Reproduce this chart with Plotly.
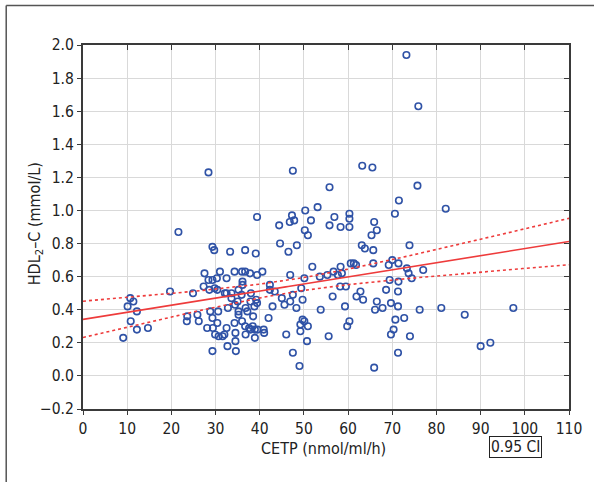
import numpy as np
import plotly.graph_objects as go

# CETP (nmol/ml/h)
cetp = [73.2, 75.9, 28.4, 47.5, 63.2, 65.5, 55.8, 75.7, 71.5, 82.1, 53.1, 50.3, 70.6, 60.3, 60.3, 60.3,
        56.9, 51.6, 55.8, 58.3, 65.9, 66.5, 65.3, 39.4, 21.6, 44.4, 46.8, 47.3, 47.8, 50.2, 50.9,
        29.3, 29.7, 33.3, 36.7, 39.1, 44.6, 48.4, 46.5, 63.1, 63.8, 65.7, 73.9,
        51.9, 27.5, 31.0, 32.5, 34.3, 36.0, 36.7, 37.8, 39.4, 40.6, 36.1, 36.1, 46.9, 28.4, 29.3, 30.3,
        27.3, 50.1, 53.6, 55.3, 56.7, 57.7, 58.6, 58.3, 60.6, 61.3, 61.8, 65.7, 69.2, 70.0, 71.4, 73.3,
        73.7, 74.4, 77.0, 69.4, 71.4, 58.2, 59.5, 49.4, 42.3,
        28.6, 29.8, 30.4, 32.1, 32.5, 33.6, 35.2, 35.9, 33.6, 38.0, 42.3, 43.4, 19.7, 24.9, 10.7, 11.4,
        37.9, 39.2, 39.4, 45.0, 46.9, 47.5, 49.7, 56.5, 62.8, 61.9, 63.4, 68.6, 71.3, 66.5, 35.0,
        32.8, 34.4, 35.2, 35.2, 36.8, 37.2, 38.8, 38.5, 42.0, 45.6, 42.9, 48.3, 28.8, 30.6, 29.3, 10.1,
        12.2, 23.6, 25.9, 53.8, 59.3, 66.1, 67.8, 76.2, 81.1, 86.4, 97.4, 69.7, 71.3,
        49.7, 50.1, 49.2, 50.9, 49.2, 60.3, 59.8, 70.7, 72.7, 70.3, 69.7, 74.0, 55.6, 50.7, 90.0, 92.2,
        46.0, 47.5, 71.3, 49.0, 65.9, 10.8, 12.2, 14.7, 9.1, 23.5, 26.2, 28.1, 29.4, 30.4, 32.5, 34.3,
        36.0, 36.7, 37.6, 37.9, 38.4, 38.9, 39.5, 40.9, 41.0, 29.9, 30.7, 31.6, 32.0, 34.5, 34.5, 36.8,
        38.9, 32.7, 34.6, 29.3]
# HDL2-C (mmol/L)
hdl2 = [1.94, 1.63, 1.23, 1.24, 1.27, 1.26, 1.14, 1.15, 1.06, 1.01, 1.02, 1.00, 0.98, 0.98, 0.95, 0.90,
        0.96, 0.94, 0.91, 0.90, 0.93, 0.88, 0.85, 0.96, 0.87, 0.91, 0.93, 0.97, 0.94, 0.88, 0.85,
        0.78, 0.76, 0.75, 0.76, 0.74, 0.80, 0.79, 0.75, 0.79, 0.77, 0.76, 0.79,
        0.66, 0.62, 0.63, 0.59, 0.63, 0.63, 0.63, 0.62, 0.61, 0.63, 0.57, 0.55, 0.61, 0.58, 0.58, 0.59,
        0.54, 0.59, 0.60, 0.61, 0.63, 0.61, 0.62, 0.66, 0.68, 0.68, 0.67, 0.68, 0.67, 0.70, 0.68, 0.65,
        0.62, 0.59, 0.64, 0.58, 0.57, 0.54, 0.54, 0.53, 0.55,
        0.52, 0.53, 0.52, 0.50, 0.50, 0.50, 0.52, 0.49, 0.47, 0.50, 0.52, 0.51, 0.51, 0.50, 0.47, 0.45,
        0.45, 0.46, 0.44, 0.47, 0.45, 0.49, 0.46, 0.48, 0.51, 0.48, 0.46, 0.52, 0.51, 0.45, 0.45,
        0.41, 0.43, 0.39, 0.37, 0.41, 0.39, 0.42, 0.36, 0.35, 0.43, 0.42, 0.41, 0.39, 0.39, 0.35, 0.42,
        0.39, 0.36, 0.37, 0.40, 0.42, 0.40, 0.41, 0.40, 0.41, 0.37, 0.41, 0.44, 0.42,
        0.34, 0.33, 0.31, 0.30, 0.27, 0.33, 0.30, 0.34, 0.35, 0.28, 0.25, 0.24, 0.24, 0.21, 0.18, 0.20,
        0.25, 0.14, 0.14, 0.06, 0.05, 0.33, 0.28, 0.29, 0.23, 0.33, 0.33, 0.29, 0.29, 0.32, 0.29, 0.32,
        0.33, 0.30, 0.29, 0.28, 0.30, 0.28, 0.28, 0.28, 0.26, 0.25, 0.24, 0.24, 0.25, 0.26, 0.21, 0.25,
        0.23, 0.18, 0.15, 0.15]

x_ticks = list(range(0, 111, 10))
y_ticks = [round(-0.2 + 0.2 * i, 1) for i in range(12)]
legend_text = "0.95 CI"

x = np.array(cetp)
y = np.array(hdl2)
n = len(x)
slope, intercept = np.polyfit(x, y, 1)
resid = y - (intercept + slope * x)
s = np.sqrt(np.sum(resid ** 2) / (n - 2))
xbar = x.mean()
sxx = np.sum((x - xbar) ** 2)
t = 1.972
xf = np.linspace(0, 110, 200)
yf = intercept + slope * xf
half = t * s * np.sqrt(1.0 / n + (xf - xbar) ** 2 / sxx)

blue = "#2f52a6"
red = "#ee3b3b"
font = "DejaVu Sans Condensed, Liberation Sans Narrow, sans-serif"
txt = "#222"

fig = go.Figure()
fig.add_trace(go.Scatter(x=x, y=y, mode="markers",
                         marker=dict(symbol="circle-open", size=6.5, color=blue, line=dict(width=1.6, color=blue)),
                         showlegend=False))
fig.add_trace(go.Scatter(x=xf, y=yf, mode="lines", line=dict(color=red, width=1.6), showlegend=False))
fig.add_trace(go.Scatter(x=xf, y=yf + half, mode="lines", line=dict(color=red, width=1.6, dash="dot"), showlegend=False))
fig.add_trace(go.Scatter(x=xf, y=yf - half, mode="lines", line=dict(color=red, width=1.6, dash="dot"), showlegend=False))
fig.add_trace(go.Scatter(x=[0], y=[0], xaxis="x2", yaxis="y2", mode="markers",
                         marker=dict(opacity=0), showlegend=False, hoverinfo="skip"))

axis_common = dict(showline=True, linecolor="#3a3a3a", linewidth=2, mirror=True,
                   gridcolor="#d9d9d9", gridwidth=1, zeroline=False,
                   ticks="outside", ticklen=4, tickcolor="#3a3a3a", tickwidth=1,
                   tickfont=dict(family=font, size=15.5, color=txt))

fig.update_layout(
    width=594, height=482,
    margin=dict(l=83, r=20, t=45, b=73),
    paper_bgcolor="white", plot_bgcolor="white",
    xaxis=dict(range=[0, 110], tickvals=x_ticks, ticktext=[str(v) for v in x_ticks], **axis_common),
    yaxis=dict(range=[-0.2, 2.0], tickvals=y_ticks, tickformat=".1f", **axis_common),
    xaxis2=dict(range=[0, 110], overlaying="x", side="top", tickvals=x_ticks, ticks="inside", ticklen=5,
                tickcolor="#3a3a3a", showticklabels=False, showgrid=False, zeroline=False, showline=False),
    yaxis2=dict(range=[-0.2, 2.0], overlaying="y", side="right", tickvals=y_ticks, ticks="inside", ticklen=5,
                tickcolor="#3a3a3a", showticklabels=False, showgrid=False, zeroline=False, showline=False),
)

# axis titles
fig.add_annotation(text="CETP (nmol/ml/h)", xref="paper", yref="paper", x=0.495, y=-0.108,
                   xanchor="center", yanchor="middle", showarrow=False,
                   font=dict(family=font, size=16, color=txt))
fig.add_annotation(text="HDL<sub>2</sub>–C (mmol/L)", xref="paper", yref="paper", x=-0.0985, y=0.508,
                   xanchor="center", yanchor="middle", showarrow=False, textangle=-90,
                   font=dict(family=font, size=16, color=txt))

# outer frame (left and top edges)
fig.add_shape(type="line", xref="paper", yref="paper", x0=-0.158, x1=1.2, y0=1.1085, y1=1.1085,
              line=dict(color="#555", width=1.5))
fig.add_shape(type="line", xref="paper", yref="paper", x0=-0.158, x1=-0.158, y0=-0.3, y1=1.1085,
              line=dict(color="#555", width=1.5))

fig.add_annotation(text=legend_text, xref="paper", yref="paper", x=0.89, y=-0.104,
                   xanchor="center", yanchor="middle", showarrow=False,
                   font=dict(family=font, size=15.5, color=txt),
                   bordercolor="#222", borderwidth=1, borderpad=1, bgcolor="white")

fig.write_html("out.html")
